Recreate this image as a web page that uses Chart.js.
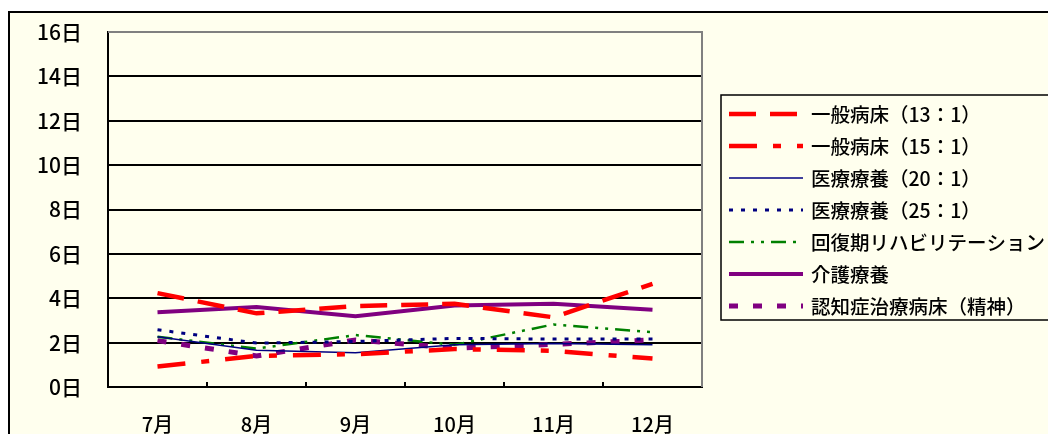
<!DOCTYPE html>
<html>
<head>
<meta charset="utf-8">
<script src="https://cdn.jsdelivr.net/npm/chart.js@4"></script>
<style>
  body { margin: 0; background: #ffffff; }
  #wrap { width: 1048px; height: 434px; }
</style>
</head>
<body>
<div id="wrap"><canvas id="stayChart" width="1048" height="434"></canvas></div>
<script>
const months = ['7月', '8月', '9月', '10月', '11月', '12月'];
const yTicks = [0, 2, 4, 6, 8, 10, 12, 14, 16];

// 平均在院日数（日）
const ippan13 = [4.23, 3.32, 3.65, 3.75, 3.14, 4.65];
const ippan15 = [0.92, 1.40, 1.48, 1.71, 1.63, 1.28];
const iryo20 = [2.27, 1.66, 1.54, 1.90, 1.96, 1.90];
const iryo25 = [2.58, 1.98, 2.05, 2.19, 2.16, 2.16];
const kaifuku = [2.27, 1.73, 2.34, 1.90, 2.82, 2.47];
const kaigo = [3.37, 3.60, 3.19, 3.67, 3.75, 3.48];
const ninchi = [2.09, 1.40, 2.12, 1.75, 1.92, 2.12];

const FONT = "'Noto Sans CJK JP', 'Noto Sans', sans-serif";
const CREAM = '#ffffee';

// background, outer frame, plot frame, inside tick marks
const framePlugin = {
  id: 'frame',
  beforeDraw(chart) {
    const ctx = chart.ctx;
    ctx.save();
    ctx.fillStyle = '#ffffff';
    ctx.fillRect(0, 0, chart.width, chart.height);
    ctx.fillStyle = CREAM;
    ctx.fillRect(9, 12, chart.width, chart.height);
    ctx.strokeStyle = '#000000';
    ctx.lineWidth = 2;
    ctx.beginPath();
    ctx.moveTo(9, chart.height);
    ctx.lineTo(9, 12);
    ctx.lineTo(chart.width, 12);
    ctx.stroke();
    ctx.restore();
  },
  afterDatasetsDraw(chart) {
    const ctx = chart.ctx;
    const a = chart.chartArea;
    ctx.save();
    ctx.strokeStyle = '#808080';
    ctx.lineWidth = 2;
    ctx.beginPath();
    ctx.moveTo(a.left, a.top);
    ctx.lineTo(a.right, a.top);
    ctx.lineTo(a.right, a.bottom);
    ctx.stroke();
    // small ticks between months, pointing up
    ctx.strokeStyle = '#000000';
    ctx.lineWidth = 2;
    const step = (a.right - a.left) / months.length;
    ctx.beginPath();
    for (let i = 1; i < months.length; i++) {
      const x = Math.round(a.left + step * i);
      ctx.moveTo(x, a.bottom);
      ctx.lineTo(x, a.bottom - 5);
    }
    ctx.stroke();
    ctx.restore();
  }
};

// legend box like the spreadsheet one
const legendPlugin = {
  id: 'boxLegend',
  afterDraw(chart) {
    const ctx = chart.ctx;
    ctx.save();
    ctx.fillStyle = CREAM;
    ctx.fillRect(721, 95, 400, 225);
    ctx.strokeStyle = '#000000';
    ctx.lineWidth = 1.5;
    ctx.strokeRect(721, 95, 400, 225);
    chart.data.datasets.forEach((ds, i) => {
      const y = 114 + i * 32;
      ctx.strokeStyle = ds.borderColor;
      ctx.lineWidth = ds.borderWidth;
      ctx.setLineDash(ds.borderDash || []);
      ctx.beginPath();
      ctx.moveTo(729, y);
      ctx.lineTo(803, y);
      ctx.stroke();
      ctx.setLineDash([]);
      ctx.fillStyle = '#000000';
      ctx.font = '500 19.5px ' + FONT;
      ctx.textBaseline = 'middle';
      ctx.fillText(ds.label, 811, y + 1);
    });
    ctx.restore();
  }
};

new Chart(document.getElementById('stayChart'), {
  type: 'line',
  data: {
    labels: months,
    datasets: [
      { label: '一般病床（13：1）', data: ippan13, borderColor: '#ff0000', borderWidth: 4.5, borderDash: [27, 14] },
      { label: '一般病床（15：1）', data: ippan15, borderColor: '#ff0000', borderWidth: 4.5, borderDash: [28, 16, 8, 16] },
      { label: '医療療養（20：1）', data: iryo20, borderColor: '#000080', borderWidth: 1.5 },
      { label: '医療療養（25：1）', data: iryo25, borderColor: '#000080', borderWidth: 3, borderDash: [4, 8] },
      { label: '回復期リハビリテーション', data: kaifuku, borderColor: '#008000', borderWidth: 2.5, borderDash: [15, 7, 3, 7, 3, 7] },
      { label: '介護療養', data: kaigo, borderColor: '#800080', borderWidth: 4 },
      { label: '認知症治療病床（精神）', data: ninchi, borderColor: '#800080', borderWidth: 5, borderDash: [9, 15] }
    ]
  },
  options: {
    responsive: false,
    animation: false,
    elements: {
      point: { radius: 0 },
      line: { tension: 0, fill: false, borderCapStyle: 'butt' }
    },
    layout: { padding: { left: 0, top: 32, right: 346, bottom: 0 } },
    plugins: {
      legend: { display: false },
      tooltip: { enabled: false }
    },
    scales: {
      x: {
        offset: true,
        grid: { display: false, drawTicks: false },
        border: { color: '#000000', width: 2 },
        ticks: { color: '#000000', font: { family: FONT, size: 20, weight: 500 }, padding: 25 },
        afterFit(scale) { scale.height = 47; }
      },
      y: {
        min: 0,
        max: 16,
        afterBuildTicks(scale) { scale.ticks = yTicks.map(v => ({ value: v })); },
        grid: {
          drawTicks: false,
          lineWidth: 2,
          color: ctx => (ctx.tick && ctx.tick.value === 16 ? '#808080' : '#000000')
        },
        border: { color: '#000000', width: 2 },
        ticks: {
          color: '#000000',
          font: { family: FONT, size: 21, weight: 500 },
          padding: 26,
          callback: v => v + '日'
        },
        afterFit(scale) {
          scale.width = 108;
          scale.paddingTop = 0;
          scale.paddingBottom = 0;
        }
      }
    }
  },
  plugins: [framePlugin, legendPlugin]
});
</script>
</body>
</html>
